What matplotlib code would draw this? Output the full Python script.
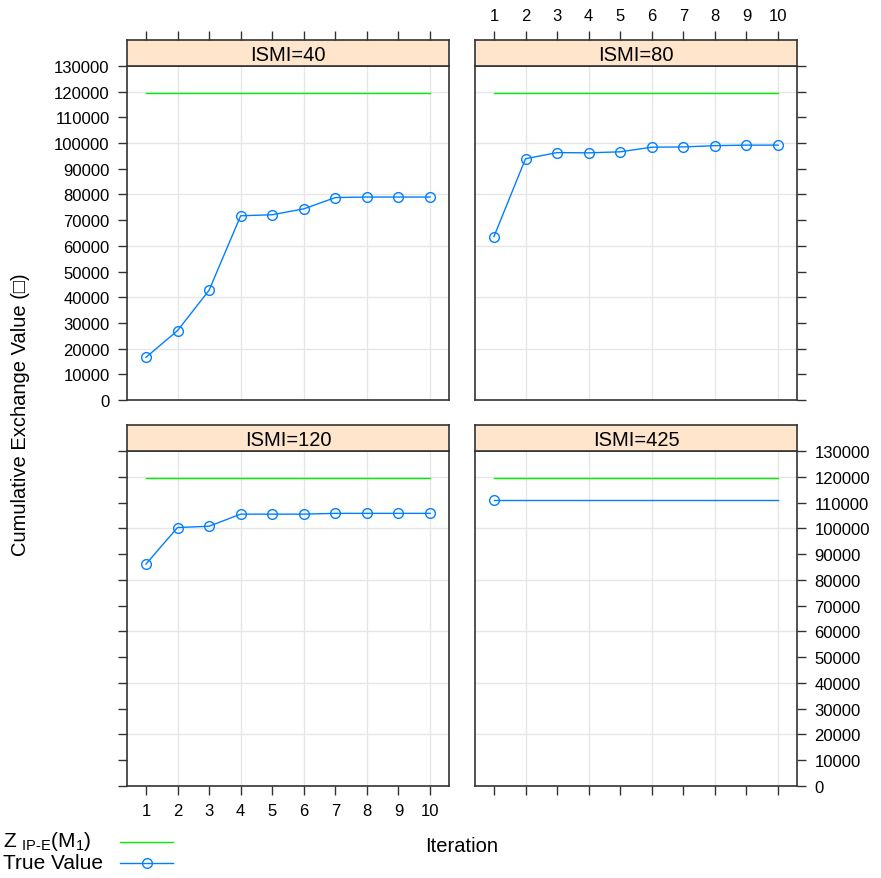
import matplotlib.pyplot as plt

plt.rcParams["font.family"] = ["Liberation Sans", "DejaVu Sans"]
plt.rcParams["mathtext.fontset"] = "custom"
plt.rcParams["mathtext.rm"] = "Liberation Sans"
plt.rcParams["mathtext.it"] = "Liberation Sans"

iterations = [1, 2, 3, 4, 5, 6, 7, 8, 9, 10]
ismi_labels = ["ISMI=40", "ISMI=80", "ISMI=120", "ISMI=425"]
z_value = 119500
true_40 = [16600, 27000, 42700, 71700, 72100, 74400, 78800, 79000, 79000, 79000]
true_80 = [63600, 93900, 96300, 96200, 96600, 98400, 98500, 99000, 99200, 99200]
true_120 = [86100, 100300, 100800, 105500, 105500, 105500, 105800, 105800, 105800, 105800]
true_425 = [110900]
y_ticks = list(range(0, 130001, 10000))

GREEN = "#00ee00"
BLUE = "#0080ff"
STRIP = "#ffe5cc"
GRID = "#e6e6e6"
FRAME = "#333333"

W, H = 881, 879
fig = plt.figure(figsize=(W / 100, H / 100), dpi=100)


def fx(px):
    return px / W


def fy(px):
    return 1 - px / H


# panel boxes in pixels: (left, right, strip_top, plot_top, plot_bottom)
panels = [
    (127, 449, 41, 67, 401),
    (475, 797, 41, 67, 401),
    (127, 449, 426, 452, 787),
    (475, 797, 426, 452, 787),
]
series = [true_40, true_80, true_120, true_425]

for i, (l, r, st, pt, pb) in enumerate(panels):
    ax = fig.add_axes([fx(l), fy(pb), fx(r) - fx(l), fy(pt) - fy(pb)])
    sax = fig.add_axes([fx(l), fy(pt), fx(r) - fx(l), fy(st) - fy(pt)])
    ax.set_xlim(0.4, 10.6)
    ax.set_ylim(0, 130000)
    sax.set_xlim(0.4, 10.6)
    sax.set_ylim(0, 1)
    sax.set_facecolor(STRIP)
    sax.text(0.5, 0.45, ismi_labels[i], transform=sax.transAxes, ha="center",
             va="center", fontsize=14.5)
    sax.set_yticks([])

    for gx in iterations[1::2]:
        ax.axvline(gx, color=GRID, lw=1, zorder=0)
    for gy in y_ticks[2:-1:2]:
        ax.axhline(gy, color=GRID, lw=1, zorder=0)

    ax.plot([iterations[0], iterations[-1]], [z_value, z_value], color=GREEN, lw=1)
    vals = series[i]
    if len(vals) == 1:
        ax.plot([iterations[0], iterations[-1]], [vals[0], vals[0]], color=BLUE, lw=1)
        ax.plot(iterations[0], vals[0], "o", mfc="none", mec=BLUE, ms=7, mew=1)
    else:
        ax.plot(iterations, vals, "-o", color=BLUE, mfc="none", mec=BLUE, ms=7,
                mew=1, lw=1)

    for a in (ax, sax):
        for s in a.spines.values():
            s.set_color(FRAME)
            s.set_linewidth(1.2)
        a.tick_params(direction="out", length=6.5, width=1, color=FRAME,
                      labelsize=12, pad=6)

    top = i < 2
    left = i % 2 == 0
    # x ticks
    ax.set_xticks(iterations)
    sax.set_xticks(iterations)
    if top:
        ax.tick_params(axis="x", bottom=False, labelbottom=False)
        sax.tick_params(axis="x", top=True, bottom=False, labeltop=(i == 1),
                        labelbottom=False)
    else:
        ax.tick_params(axis="x", bottom=True, labelbottom=(i == 2))
        sax.tick_params(axis="x", bottom=False, labelbottom=False)
    # y ticks
    ax.set_yticks(y_ticks)
    if left:
        ax.tick_params(axis="y", left=True, right=False, labelleft=(i == 0))
    else:
        ax.tick_params(axis="y", left=False, right=True, labelleft=False,
                       labelright=(i == 3))

fig.text(fx(21), fy(415), "Cumulative Exchange Value (\u25a1)", rotation=90,
         ha="center", va="center", fontsize=14.5)
fig.text(fx(462), fy(847), "Iteration", ha="center", va="center", fontsize=14.5)

# legend
fig.text(fx(3), fy(842), r"Z $_{\mathregular{IP‐E}}$(M$_{1}$)", ha="left",
         va="center", fontsize=15)
fig.text(fx(3), fy(864), "True Value", ha="left", va="center", fontsize=15)
fig.add_artist(plt.Line2D([fx(120), fx(173)], [fy(843), fy(843)], color=GREEN, lw=1))
fig.add_artist(plt.Line2D([fx(120), fx(173)], [fy(864), fy(864)], color=BLUE, lw=1))
fig.add_artist(plt.Line2D([fx(146.5)], [fy(864)], marker="o", mfc="none", mec=BLUE,
                          ms=7, mew=1))

fig.savefig("out.png", dpi=100)
